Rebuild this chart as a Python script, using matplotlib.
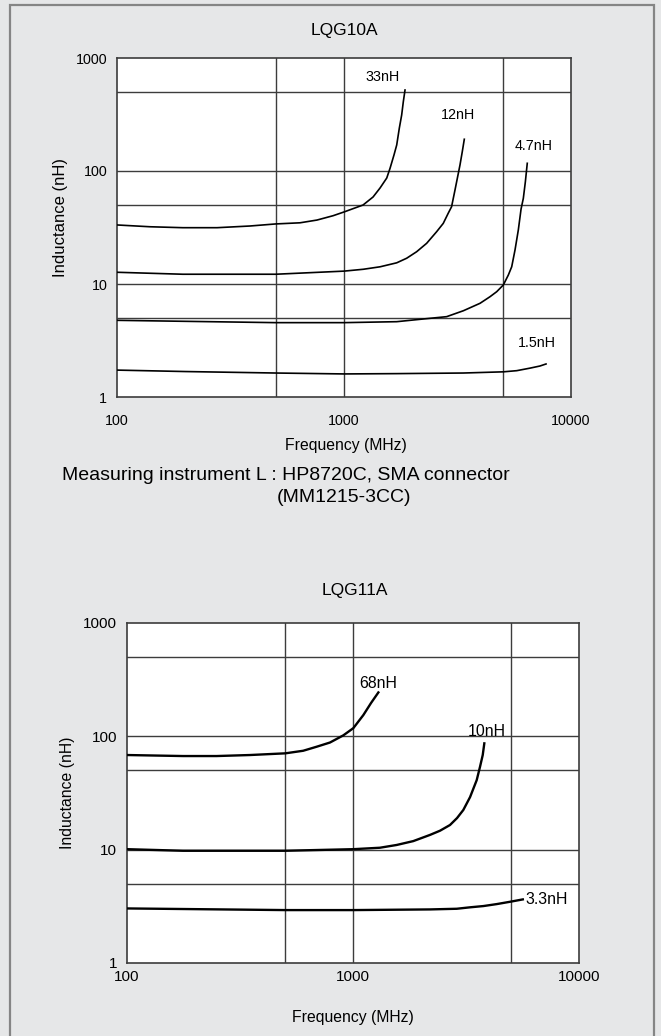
import matplotlib
matplotlib.use("Agg")
import matplotlib.pyplot as plt
from matplotlib.patches import Rectangle

plt.rcParams['font.family'] = ['Liberation Sans', 'DejaVu Sans']

# LQG10A curves (frequency MHz, inductance nH)
f_33 = [100, 140, 195, 276, 385, 500, 640, 760, 895, 1000, 1213, 1343, 1442, 1543, 1596,
        1661, 1707, 1753, 1795, 1825, 1857]
l_33 = [33.3, 32.1, 31.5, 31.5, 32.6, 34.0, 34.8, 36.8, 40.2, 43.4, 50.0, 58.9, 70.8, 86.7, 106,
        139, 170, 240, 313, 410, 521]
f_12 = [100, 195, 500, 1000, 1216, 1442, 1707, 1888, 2089, 2312, 2558, 2737, 2877, 2978, 3083,
        3243, 3319, 3388]
l_12 = [12.7, 12.2, 12.2, 13.0, 13.5, 14.2, 15.4, 16.9, 19.3, 22.9, 29.0, 34.4, 42.2, 48.3, 67.9,
        113, 148, 191]
f_47 = [100, 500, 1000, 1707, 2393, 2833, 3357, 3975, 4398, 4707, 5033, 5295, 5480, 5667, 5861,
        6026, 6166, 6295, 6417]
l_47 = [4.77, 4.55, 4.55, 4.64, 4.97, 5.14, 5.80, 6.75, 7.72, 8.55, 9.80, 12.0, 14.2, 20.0, 30.1,
        46.1, 57.3, 80.4, 117]
f_15 = [100, 200, 500, 1000, 1700, 3350, 5030, 5768, 6592, 7295, 7762]
l_15 = [1.73, 1.68, 1.63, 1.60, 1.61, 1.63, 1.67, 1.71, 1.80, 1.88, 1.96]

# LQG11A curves
f_68 = [100, 177, 249, 350, 502, 602, 691, 791, 906, 1003, 1111, 1202, 1295]
l_68 = [68.4, 67.0, 67.0, 68.4, 70.8, 74.6, 81.0, 88.2, 102, 118, 154, 197, 244]
f_10 = [100, 177, 502, 1003, 1315, 1560, 1848, 2192, 2427, 2686, 2886, 3077, 3296, 3527, 3648,
        3750, 3811]
l_10 = [10.1, 9.78, 9.78, 10.1, 10.4, 11.0, 11.9, 13.5, 14.7, 16.5, 19.0, 22.4, 29.1, 41.1, 53.9,
        68.4, 86.7]
f_33b = [100, 502, 1003, 2192, 2877, 3296, 3776, 4327, 4955, 5641]
l_33b = [3.03, 2.93, 2.93, 2.97, 3.01, 3.10, 3.18, 3.31, 3.47, 3.64]

x_ticks = [100, 1000, 10000]
y_ticks = [1, 10, 100, 1000]
x_grid = [500, 1000, 5000]
y_grid = [5, 10, 50, 100, 500]

bg = '#e6e7e8'
fig = plt.figure(figsize=(6.61, 10.36), dpi=100, facecolor=bg)
fig.patches.append(Rectangle((10 / 661, -0.01), 644 / 661, 1 - 5 / 1036 + 0.01,
                             transform=fig.transFigure, fill=False,
                             edgecolor='#858585', linewidth=1.6))


def setup(ax, xpad, ypad, tick_size, lab_size):
    ax.set_xscale('log')
    ax.set_yscale('log')
    ax.set_xlim(100, 10000)
    ax.set_ylim(1, 1000)
    ax.set_facecolor('white')
    for g in x_grid:
        ax.axvline(g, color='#3c3c3c', lw=1.0, zorder=1)
    for g in y_grid:
        ax.axhline(g, color='#3c3c3c', lw=1.0, zorder=1)
    ax.set_xticks(x_ticks)
    ax.set_xticklabels([str(t) for t in x_ticks])
    ax.set_yticks(y_ticks)
    ax.set_yticklabels([str(t) for t in y_ticks])
    ax.minorticks_off()
    ax.tick_params(length=0, labelsize=tick_size)
    ax.tick_params(axis='x', pad=xpad)
    ax.tick_params(axis='y', pad=ypad)
    for s in ax.spines.values():
        s.set_color('#3c3c3c')
        s.set_linewidth(1.2)
    ax.set_ylabel('Inductance (nH)', fontsize=lab_size)
    ax.set_xlabel('Frequency (MHz)', fontsize=11.3)


# top chart
ax1 = fig.add_axes([117 / 661, 1 - 397 / 1036, 454 / 661, 339 / 1036])
setup(ax1, 12, 7, 10.3, 12)
ax1.yaxis.set_label_coords(-0.108, 0.53)
ax1.xaxis.set_label_coords(0.504, -0.121)
for f, l in [(f_33, l_33), (f_12, l_12), (f_47, l_47), (f_15, l_15)]:
    ax1.plot(f, l, color='black', lw=1.2, zorder=3)
ax1.text(1486, 679, '33nH', fontsize=10.3, ha='center', va='center')
ax1.text(3177, 313, '12nH', fontsize=10.3, ha='center', va='center')
ax1.text(6871, 166, '4.7nH', fontsize=10.3, ha='center', va='center')
ax1.text(7079, 3.0, '1.5nH', fontsize=10.3, ha='center', va='center')

fig.text(344 / 661, 1 - 30 / 1036, 'LQG10A', fontsize=12.5, ha='center', va='center')
fig.text(62 / 661, 1 - 475 / 1036, 'Measuring instrument L : HP8720C, SMA connector',
         fontsize=14, ha='left', va='center')
fig.text(277 / 661, 1 - 498 / 1036, '(MM1215-3CC)', fontsize=14, ha='left', va='center')

# bottom chart
ax2 = fig.add_axes([127 / 661, 1 - 963 / 1036, 452 / 661, 340 / 1036])
setup(ax2, 5, 7, 11, 11.3)
ax2.yaxis.set_label_coords(-0.115, 0.5)
ax2.xaxis.set_label_coords(0.5, -0.138)
for f, l in [(f_68, l_68), (f_10, l_10), (f_33b, l_33b)]:
    ax2.plot(f, l, color='black', lw=1.7, zorder=3)
ax2.text(1290, 295, '68nH', fontsize=11.4, ha='center', va='center')
ax2.text(3917, 111, '10nH', fontsize=11.4, ha='center', va='center')
ax2.text(5770, 3.66, '3.3nH', fontsize=11.4, ha='left', va='center')

fig.text(355 / 661, 1 - 590 / 1036, 'LQG11A', fontsize=12.5, ha='center', va='center')

fig.savefig('out.png', dpi=100, facecolor=bg)
